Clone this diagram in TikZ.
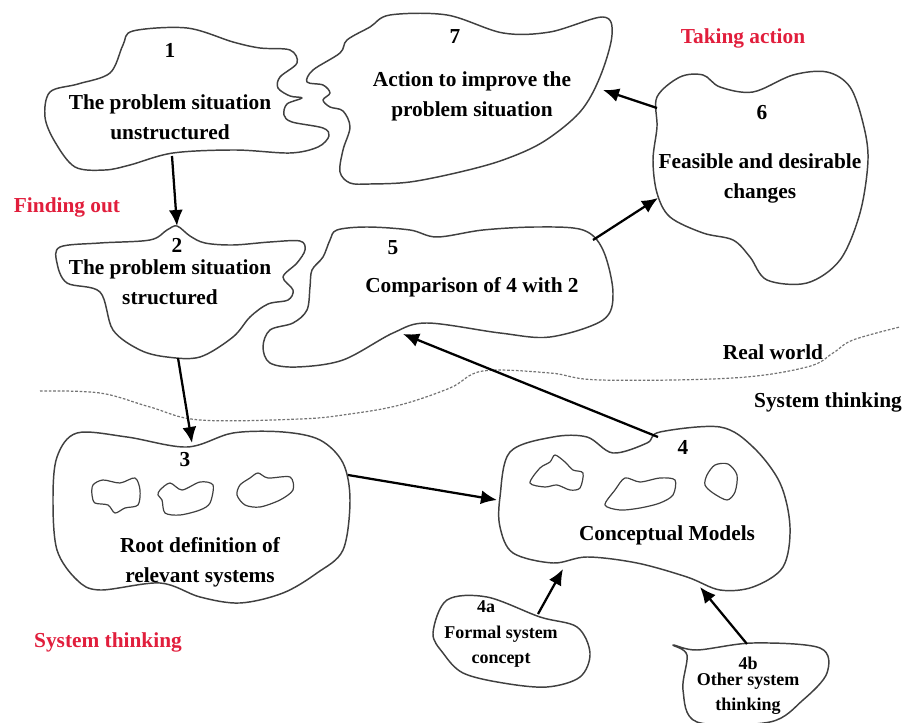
\documentclass[tikz,border=0pt]{standalone}
\usepackage{fontspec}
\setmainfont{Liberation Serif}
\usepackage{tikz}
\usetikzlibrary{arrows.meta}
\usetikzlibrary{calc}
\definecolor{redlbl}{RGB}{225,30,60}
\tikzset{
blob/.style = {draw=black!75, line width=1.1pt, line join=round},
inblob/.style = {draw=black!75, line width=0.9pt, line join=round},
arr/.style = {line width=1.7pt, -{Latex[length=12pt,width=10.5pt]}},
lbl/.style = {font=\bfseries\fontsize{16}{22.5}\selectfont, align=center, inner sep=0pt},
small/.style = {font=\bfseries\fontsize{13.5}{18.5}\selectfont, align=center, inner sep=0pt},
phase/.style = {lbl, text=redlbl},
border/.style = {draw=black!55, line width=0.9pt, dash pattern=on 2pt off 1.3pt}
}
\newcommand{\spot}[2]{\coordinate (#1) at (#2);}
\newcommand{\flow}[2]{\draw[arr] (#1) -- (#2);}
\newcommand{\cloud}[1]{\draw[blob] plot[smooth cycle, tension=0.55] coordinates {#1};}
\newcommand{\puddle}[1]{\draw[inblob] plot[smooth cycle, tension=0.5] coordinates {#1};}
\begin{document}
\begin{tikzpicture}[x=0.75pt, y=-0.75pt]
        \useasboundingbox (0,0) rectangle (904,723);
        % clouds
        \cloud{(123,45) (133,31) (187,28) (233,42) (260,48) (290,50) (297,63) (280,77) (278,88) (290,96) (302,98) (287,104) (284,115) (292,122) (323,128) (329,136) (318,147) (290,153) (235,150) (173,153) (130,165) (105,170) (75,167) (55,142) (45,117) (50,92) (78,84) (110,73)};
        \cloud{(347,40) (370,27) (390,15) (447,15) (503,33) (550,32) (603,17) (612,35) (600,77) (580,112) (543,142) (503,160) (460,172) (410,182) (370,184) (350,183) (340,172) (343,150) (350,127) (343,111) (330,107) (323,100) (330,93) (323,85) (307,82) (313,70) (340,53)};
        \cloud{(657,97) (680,77) (703,75) (720,87) (753,92) (793,75) (827,72) (850,87) (863,123) (868,160) (860,213) (840,260) (807,283) (767,280) (750,257) (733,240) (703,233) (670,217) (657,193) (653,160) (657,127)};
        \cloud{(167,230) (177,226) (190,236) (205,243) (233,245) (270,242) (300,241) (305,250) (297,263) (283,277) (293,290) (288,300) (268,304) (250,317) (233,337) (200,357) (167,357) (140,350) (113,330) (100,292) (67,283) (57,263) (60,247) (100,243) (150,240)};
        \cloud{(337,230) (367,227) (410,230) (437,237) (483,230) (537,227) (583,230) (603,250) (613,293) (603,320) (550,337) (500,333) (427,323) (393,333) (343,360) (297,367) (270,363) (263,347) (270,330) (293,323) (307,310) (310,287) (312,270) (323,257) (330,240)};
        \cloud{(57,457) (77,433) (127,437) (187,447) (233,433) (283,432) (320,440) (343,463) (350,500) (343,550) (317,573) (283,593) (240,603) (200,597) (160,583) (100,590) (77,580) (57,550) (53,500)};
        \cloud{(500,497) (510,452) (553,437) (587,437) (613,453) (647,443) (660,432) (720,427) (753,447) (780,483) (790,527) (783,567) (753,587) (720,590) (687,577) (637,563) (587,557) (553,563) (513,553) (500,527)};
        \cloud{(447,600) (487,597) (540,617) (577,627) (590,653) (580,677) (547,687) (503,683) (463,673) (443,653) (433,633)};
        \cloud{(673,645) (697,650) (753,643) (820,648) (827,673) (803,700) (770,722) (697,722) (683,690) (687,655)};
        % models inside 3 and 4
        \puddle{(93,485) (103,480) (120,483) (135,478) (140,490) (138,505) (125,508) (115,513) (108,505) (95,503) (92,495)};
        \puddle{(160,490) (170,483) (182,490) (200,482) (213,485) (210,503) (200,510) (180,515) (165,513) (162,500) (158,495)};
        \puddle{(240,485) (250,478) (258,473) (268,478) (290,477) (293,490) (280,500) (260,507) (245,505) (237,495)};
        \puddle{(530,483) (540,468) (550,462) (555,455) (565,462) (573,470) (583,473) (580,488) (570,490) (557,485) (545,487)};
        \puddle{(605,505) (615,490) (625,478) (640,482) (660,478) (675,480) (673,495) (660,503) (640,508) (620,510)};
        \puddle{(707,475) (715,465) (728,464) (737,475) (735,492) (727,500) (713,493) (705,485)};
        % real world / system thinking line
        \draw[border] plot[smooth, tension=0.6] coordinates {(40,391) (100,393) (150,407) (200,420) (300,419) (350,414) (400,405) (450,388) (483,371) (550,373) (600,380) (733,378) (807,367) (833,353) (853,340) (900,327)};
        % texts
        \node[lbl] (n1) at (170,50) {1};
        \node[lbl] (t1) at (170,117) {The problem situation\\unstructured};
        \node[lbl] (n7) at (455,37) {7};
        \node[lbl] (t7) at (472,96) {Action to improve the\\problem situation};
        \node[lbl] (n6) at (762,113) {6};
        \node[lbl] (t6) at (760,178) {Feasible and desirable\\changes};
        \node[lbl] (n2) at (177,245) {2};
        \node[lbl] (t2) at (170,282) {The problem situation\\structured};
        \node[lbl] (n5) at (393,248) {5};
        \node[lbl] (t5) at (472,287) {Comparison of 4 with 2};
        \node[lbl] (n3) at (185,460) {3};
        \node[lbl] (t3) at (200,562) {Root definition of\\relevant systems};
        \node[lbl] (n4) at (683,447) {4};
        \node[lbl] (t4) at (667,535) {Conceptual Models};
        \node[small] (n4a) at (486,607) {4a};
        \node[small] (t4a) at (501,647) {Formal system\\concept};
        \node[small] (n4b) at (748,663) {4b};
        \node[small] (t4b) at (748,694) {Other system\\thinking};
        \node[lbl] (real) at (773,352) {Real world};
        \node[lbl] (sysk) at (828,402) {System thinking};
        \node[phase] (take) at (743,38) {Taking action};
        \node[phase] (find) at (67,207) {Finding out};
        \node[phase] (syst) at (108,642) {System thinking};
        % arrow ends
        \spot{a1}{172,156} \spot{b2}{177,226}
        \spot{a2}{178,358} \spot{b3}{192,443}
        \spot{a3}{348,475} \spot{b4}{497,500}
        \spot{a4}{658,437} \spot{b5}{403,334}
        \spot{a5}{593,240} \spot{b6}{658,198}
        \spot{a6}{657,108} \spot{b7}{603,90}
        \spot{a4a}{538,614} \spot{c4}{563,569}
        \spot{a4b}{747,644} \spot{d4}{700,587}
        \flow{a1}{b2}
        \flow{a2}{b3}
        \flow{a3}{b4}
        \flow{a4}{b5}
        \flow{a5}{b6}
        \flow{a6}{b7}
        \flow{a4a}{c4}
        \flow{a4b}{d4}
\end{tikzpicture}
\end{document}
